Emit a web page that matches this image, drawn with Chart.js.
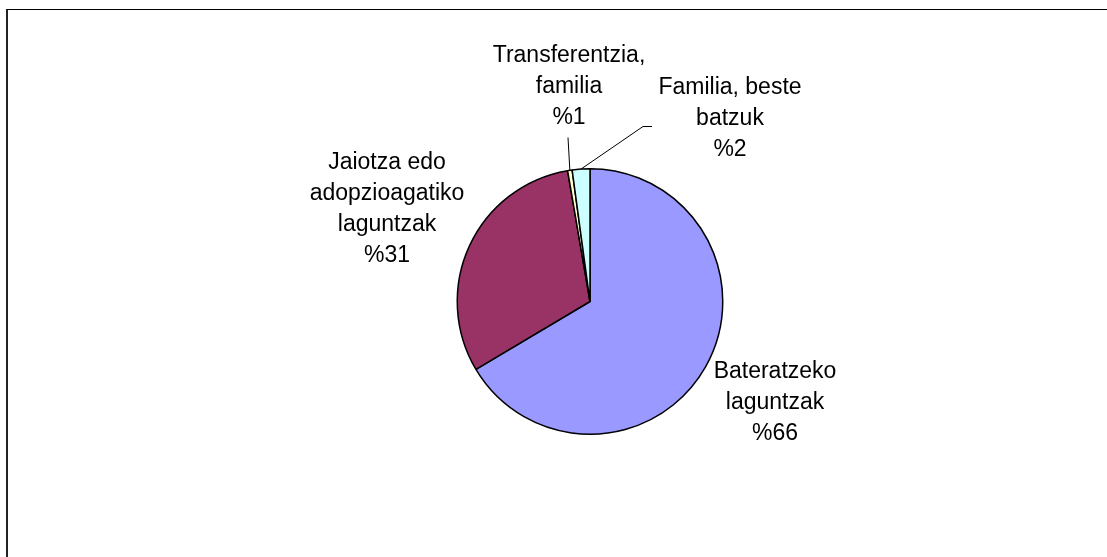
<!DOCTYPE html>
<html>
<head>
<meta charset="utf-8">
<script src="https://cdn.jsdelivr.net/npm/chart.js@4/dist/chart.umd.min.js"></script>
<style>
  html, body { margin: 0; padding: 0; background: #fff; overflow: hidden; }
  #wrap { position: relative; width: 1107px; height: 557px; }
  #frame {
    position: absolute; left: 6px; top: 9px;
    width: 1200px; height: 700px;
    border-left: 2px solid #222; border-top: 1px solid #000;
  }
  #pie { position: absolute; left: 0; top: 0; }
</style>
</head>
<body>
<div id="wrap">
  <div id="frame"></div>
  <canvas id="pie" width="1107" height="557"></canvas>
</div>
<script>
// Data
const categories = [
  ['Bateratzeko', 'laguntzak'],
  ['Jaiotza edo', 'adopzioagatiko', 'laguntzak'],
  ['Transferentzia,', 'familia'],
  ['Familia, beste', 'batzuk']
];
const shares = [66.45, 30.85, 0.55, 2.15];
const sliceColors = ['#9999FF', '#993366', '#FFFFCC', '#CCFFFF'];

// Label placement relative to pie centre (first baseline, centred text)
const labelPlacement = [
  { dx: 185, dy: 76 },
  { dx: -203, dy: -133 },
  { dx: -21, dy: -240, leader: [[-22, -164]] },
  { dx: 140, dy: -208, leader: [[62, -175], [53, -175]] }
];

const lineHeight = 31;

// Draws the category + percentage text and the leader lines
const pieLabels = {
  id: 'pieLabels',
  afterDatasetsDraw(chart) {
    const ctx = chart.ctx;
    const meta = chart.getDatasetMeta(0);
    ctx.save();
    ctx.font = '23px "Liberation Sans", Arial, sans-serif';
    ctx.fillStyle = '#000';
    ctx.textAlign = 'center';
    ctx.textBaseline = 'alphabetic';

    meta.data.forEach((arc, i) => {
      const p = labelPlacement[i];
      const cx = arc.x, cy = arc.y;
      const lines = categories[i].concat(['%' + Math.round(shares[i])]);
      lines.forEach((txt, k) => {
        ctx.fillText(txt, cx + p.dx, cy + p.dy + k * lineHeight);
      });

      if (p.leader) {
        const mid = (arc.startAngle + arc.endAngle) / 2;
        const ex = cx + Math.cos(mid) * arc.outerRadius;
        const ey = cy + Math.sin(mid) * arc.outerRadius;
        ctx.beginPath();
        ctx.lineWidth = 1;
        ctx.strokeStyle = '#000';
        p.leader.forEach((pt, k) => {
          if (k === 0) ctx.moveTo(cx + pt[0], cy + pt[1]);
          else ctx.lineTo(cx + pt[0], cy + pt[1]);
        });
        ctx.lineTo(ex, ey);
        ctx.stroke();
      }
    });
    ctx.restore();
  }
};

new Chart(document.getElementById('pie'), {
  type: 'pie',
  data: {
    labels: categories.map(c => c.join(' ')),
    datasets: [{
      data: shares,
      backgroundColor: sliceColors,
      borderColor: '#000',
      borderWidth: 1.5
    }]
  },
  options: {
    responsive: false,
    animation: false,
    events: [],
    layout: {
      padding: { left: 390, right: 317, top: 168, bottom: 122 }
    },
    plugins: {
      legend: { display: false },
      tooltip: { enabled: false }
    }
  },
  plugins: [pieLabels]
});
</script>
</body>
</html>
